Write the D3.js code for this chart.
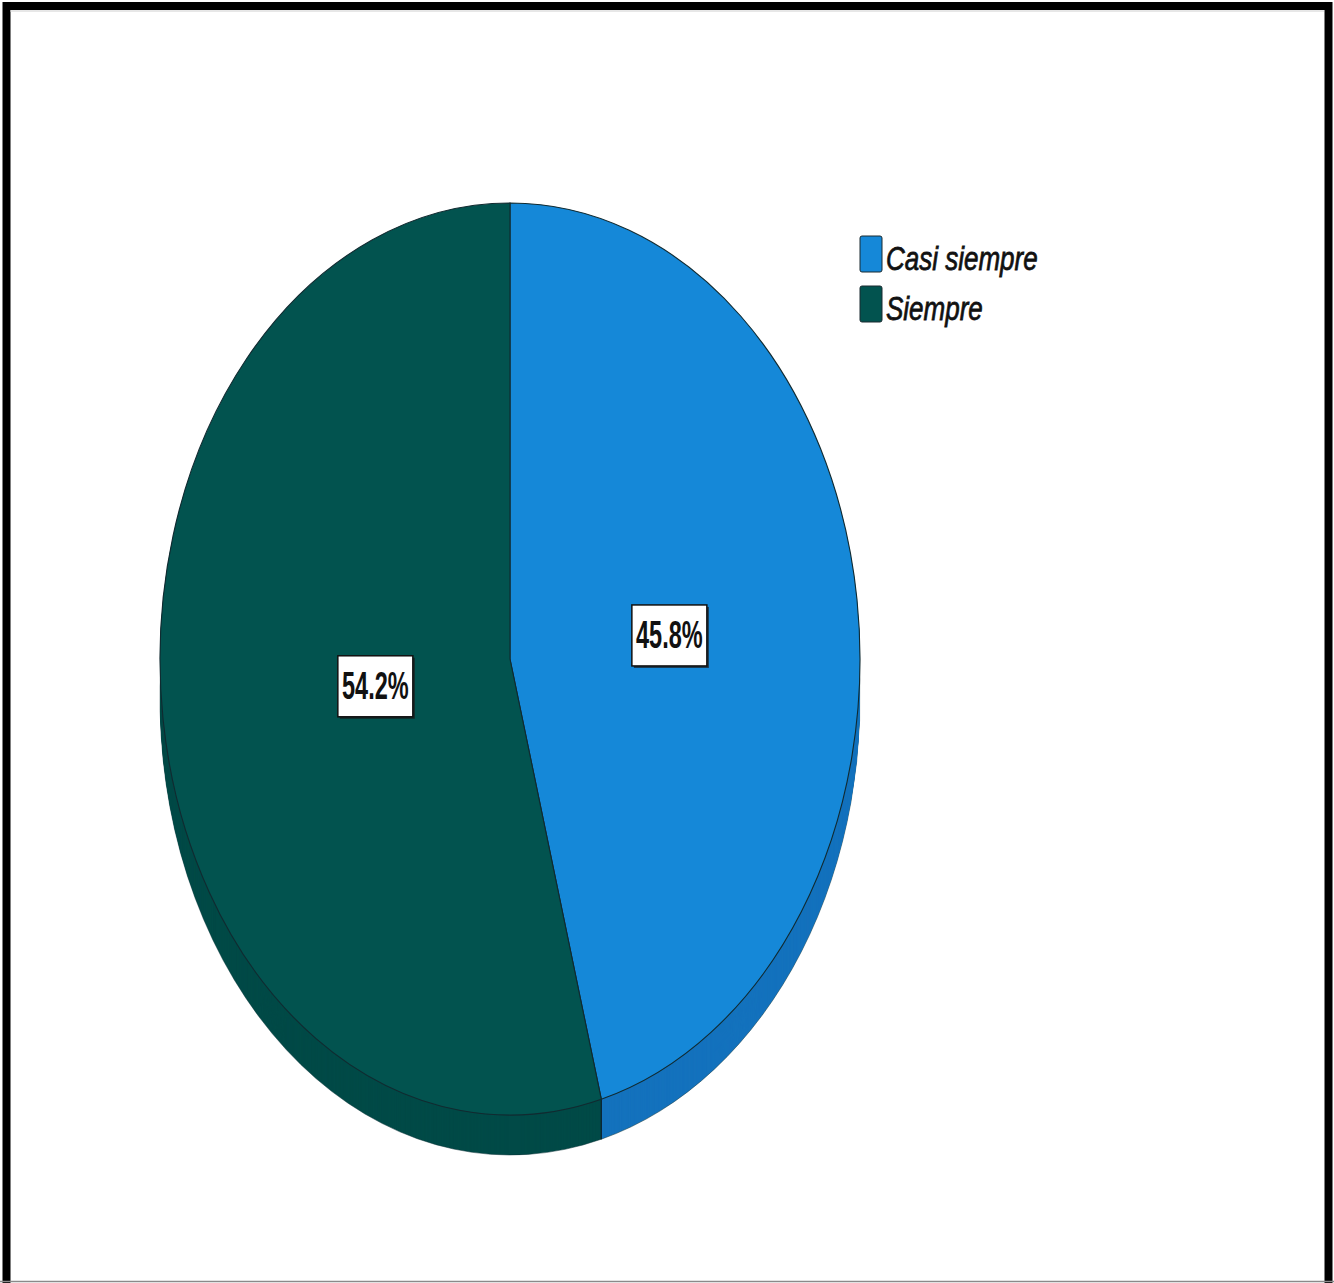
<!DOCTYPE html>
<html>
<head>
<meta charset="utf-8">
<script src="https://cdn.jsdelivr.net/npm/d3@7"></script>
<style>
  html, body { margin: 0; padding: 0; background: #ffffff; }
  svg { display: block; }
</style>
</head>
<body>
<svg id="chart" width="1334" height="1283"></svg>
<script>
// Response categories and their share of answers (%)
const categories = ["Casi siempre", "Siempre"];
const percents = [45.8, 54.2];
const labels = ["45.8%", "54.2%"];
const faceColors = ["#1588d8", "#02534f"];
const sideColors = ["#1472bd", "#014a47"];

const W = 1334, H = 1283;
const cx = 510, cy = 659;      // centre of the top face
const rx = 350, ry = 456;      // horizontal / vertical radii of the tilted disc
const depth = 40;              // thickness of the disc
const sy = ry / rx;

const svg = d3.select("#chart");

// outer frame
svg.append("rect")
  .attr("x", 6.5).attr("y", 6).attr("width", 1322).attr("height", 1300)
  .attr("fill", "none").attr("stroke", "#000").attr("stroke-width", 8);
svg.append("line")
  .attr("x1", 10).attr("x2", 1324).attr("y1", 11).attr("y2", 11)
  .attr("stroke", "#cfcfcf").attr("stroke-width", 1);
svg.append("line")
  .attr("x1", 0).attr("x2", W).attr("y1", 1281.5).attr("y2", 1281.5)
  .attr("stroke", "#8a8a8a").attr("stroke-width", 1.5);

const pie = d3.pie().sort(null).value(d => d).startAngle(0).endAngle(2 * Math.PI);
const arcs = pie(percents);
const arc = d3.arc().innerRadius(0).outerRadius(rx);

// side wall: the slices stacked downwards, deepest layer first
const sideWall = svg.append("g");
for (let t = depth; t >= 1; t--) {
  const layer = sideWall.append("g")
    .attr("transform", `translate(${cx},${cy + t}) scale(1,${sy})`);
  layer.selectAll("path")
    .data(arcs)
    .join("path")
    .attr("d", arc)
    .attr("fill", (d, i) => sideColors[i])
    .attr("stroke", t === depth ? "#0a3036" : "none")
    .attr("stroke-width", 0.5)
    .attr("vector-effect", "non-scaling-stroke");
}

// edge where the two slices meet on the wall
arcs.forEach(a => {
  const px = cx + rx * Math.sin(a.startAngle);
  const py = cy - ry * Math.cos(a.startAngle);
  if (Math.cos(a.startAngle) < 0) {
    svg.append("line")
      .attr("x1", px).attr("y1", py).attr("x2", px).attr("y2", py + depth)
      .attr("stroke", "#0b1f28").attr("stroke-width", 1.2);
  }
});

// top face
const face = svg.append("g")
  .attr("transform", `translate(${cx},${cy}) scale(1,${sy})`);
face.selectAll("path")
  .data(arcs)
  .join("path")
  .attr("d", arc)
  .attr("fill", (d, i) => faceColors[i])
  .attr("stroke", "#112a30")
  .attr("stroke-width", 1.1)
  .attr("vector-effect", "non-scaling-stroke");

// value labels placed at the area centroid of each slice
const boxW = 75, boxH = 61;
arcs.forEach((a, i) => {
  const span = a.endAngle - a.startAngle;
  const mid = (a.startAngle + a.endAngle) / 2;
  const r = 4 * rx * Math.sin(span / 2) / (3 * span);
  const lx = cx + r * Math.sin(mid);
  const ly = cy - r * Math.cos(mid) * sy + 4;
  const g = svg.append("g").attr("transform", `translate(${lx},${ly})`);
  g.append("rect")
    .attr("x", -boxW / 2 + 2).attr("y", -boxH / 2 + 2)
    .attr("width", boxW).attr("height", boxH)
    .attr("fill", "#1a1a1a").attr("opacity", 0.75);
  g.append("rect")
    .attr("x", -boxW / 2).attr("y", -boxH / 2)
    .attr("width", boxW).attr("height", boxH)
    .attr("fill", "#ffffff").attr("stroke", "#111").attr("stroke-width", 1.5);
  g.append("text")
    .attr("transform", "translate(0,13) scale(1,1.62)")
    .attr("text-anchor", "middle")
    .attr("font-family", "'Liberation Sans', Arial, sans-serif")
    .attr("font-weight", "bold")
    .attr("font-size", 23.5)
    .attr("fill", "#111")
    .text(labels[i]);
});

// legend
const legend = svg.append("g").attr("transform", "translate(860,236)");
const item = legend.selectAll("g")
  .data(categories)
  .join("g")
  .attr("transform", (d, i) => `translate(0,${i * 50})`);
item.append("rect")
  .attr("x", 0).attr("y", 0).attr("width", 22).attr("height", 36)
  .attr("rx", 2)
  .attr("fill", (d, i) => faceColors[i])
  .attr("stroke", "#1b2a30").attr("stroke-width", 1);
item.append("text")
  .attr("transform", "translate(26,34) scale(1,1.25)")
  .attr("font-family", "'Liberation Sans', Arial, sans-serif")
  .attr("font-style", "italic")
  .attr("font-size", 26)
  .attr("fill", "#111")
  .attr("stroke", "#111")
  .attr("stroke-width", 0.6)
  .text(d => d);
</script>
</body>
</html>
